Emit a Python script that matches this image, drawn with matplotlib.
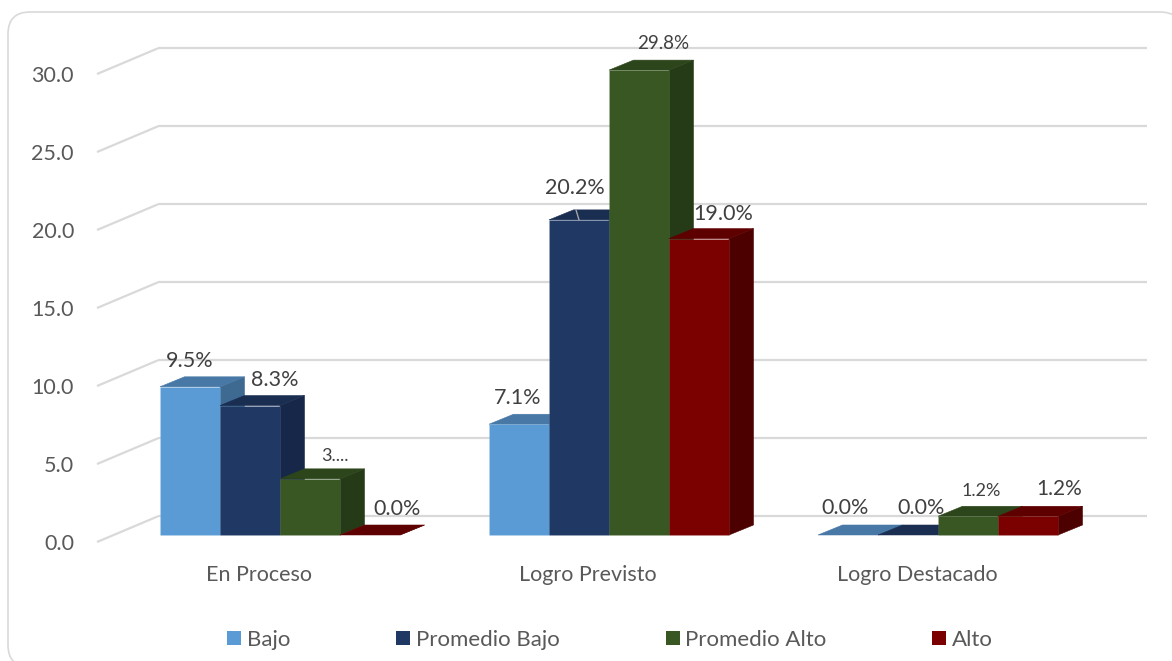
import matplotlib
matplotlib.use("Agg")
import matplotlib.pyplot as plt
from matplotlib.patches import FancyBboxPatch, Polygon, Rectangle

plt.rcParams["font.family"] = ["Lato", "DejaVu Sans"]

categories = ["En Proceso", "Logro Previsto", "Logro Destacado"]
series_names = ["Bajo", "Promedio Bajo", "Promedio Alto", "Alto"]
bajo = [9.5, 7.1, 0.0]
promedio_bajo = [8.3, 20.2, 0.0]
promedio_alto = [3.6, 29.8, 1.2]
alto = [0.0, 19.0, 1.2]
y_ticks = [0, 5, 10, 15, 20, 25, 30]

bajo_labels = ["9.5%", "7.1%", "0.0%"]
promedio_bajo_labels = ["8.3%", "20.2%", "0.0%"]
promedio_alto_labels = ["3....", "29.8%", "1.2%"]
alto_labels = ["0.0%", "19.0%", "1.2%"]

# front, top, side colours per series
colors = [("#5B9BD5", "#4778A6", "#3E6A92"),
          ("#1F3864", "#1A2E52", "#16274A"),
          ("#385723", "#2C451B", "#253A17"),
          ("#7B0000", "#5F0000", "#4C0000")]

# label offsets from the bar's front top centre, in pixels
label_offsets = [[(0, 26), (-1, 26), (-3, 27)],
                 [(25, 26), (-4, 32), (13, 27)],
                 [(25, 23), (24, 27), (13, 25)],
                 [(27, 26), (24, 25), (31, 27)]]
label_sizes = [[15.5, 15.5, 15.5], [15.5, 15.5, 15.5], [13, 13.5, 13], [15.5, 15.5, 15]]

W, H = 1172, 661
PX_X = 329.0  # pixels per category
PX_Y = 15.6   # pixels per value unit
bar_w = 60 / PX_X
depth_x = 24.5 / PX_X
depth_y = 10 / PX_Y

fig = plt.figure(figsize=(W / 100, H / 100), dpi=100)

# chart frame, pixel coordinates, runs off the right and bottom of the picture
bg = fig.add_axes([0, 0, 1, 1])
bg.set_xlim(0, W)
bg.set_ylim(H, 0)
bg.axis("off")
bg.add_patch(FancyBboxPatch((8, 12), 1174, 655, boxstyle="round,pad=0,rounding_size=22",
                            fc="white", ec="#D9D9D9", lw=1.2))

ax = fig.add_axes([97 / W, (H - 535) / H, 1050 / W, 468 / H])
ax.patch.set_alpha(0)
ax.set_xlim((97 - 280) / PX_X, (1147 - 280) / PX_X)
ax.set_ylim(0, 30)
for s in ax.spines.values():
    s.set_visible(False)
ax.set_xticks([])
ax.set_yticks([])

# walls of the 3d box
wall_x = (158 - 280) / PX_X
for v in y_ticks:
    ax.plot([ax.get_xlim()[0], wall_x], [v - 0.45, v + 1.2], color="#D9D9D9", lw=1.6,
            clip_on=False, zorder=1, solid_capstyle="butt")
    ax.plot([wall_x, ax.get_xlim()[1]], [v + 1.2, v + 1.2], color="#D9D9D9", lw=1.6,
            clip_on=False, zorder=1, solid_capstyle="butt")
    ax.annotate(f"{v:.1f}", (ax.get_xlim()[0], v), xytext=(-23, -9), textcoords="offset pixels",
                ha="right", va="center", fontsize=15.5, color="#595959")

all_values = [bajo, promedio_bajo, promedio_alto, alto]
all_labels = [bajo_labels, promedio_bajo_labels, promedio_alto_labels, alto_labels]

z = 2
for g in range(len(categories)):
    for s in range(len(series_names)):
        v = all_values[s][g]
        x0 = g + (s - 2) * bar_w
        x1 = x0 + bar_w
        front, top, side = colors[s]
        ax.add_patch(Polygon([(x1, 0), (x1 + depth_x, depth_y), (x1 + depth_x, v + depth_y), (x1, v)],
                             fc=side, ec=side, lw=0.4, zorder=z, clip_on=False))
        ax.add_patch(Polygon([(x0, v), (x0 + depth_x, v + depth_y), (x1 + depth_x, v + depth_y), (x1, v)],
                             fc=top, ec=top, lw=0.4, zorder=z, clip_on=False))
        ax.bar(x0, v, width=bar_w, align="edge", color=front, edgecolor="#FFFFFF18", lw=0.6,
               zorder=z, clip_on=False)
        z += 1
        dx, dy = label_offsets[s][g]
        ax.annotate(all_labels[s][g], (x0 + bar_w / 2, v), xytext=(dx, dy), textcoords="offset pixels",
                    ha="center", va="center", fontsize=label_sizes[s][g], color="#404040", zorder=50)
    ax.annotate(categories[g], (g, 0), xytext=(-21, -40), textcoords="offset pixels",
                ha="center", va="center", fontsize=15.5, color="#595959")

# leader line on the 20.2% label
lx = 1 + (1 - 2) * bar_w + bar_w / 2
ax.annotate("", (lx, promedio_bajo[1]), xytext=(-3, 10), textcoords="offset pixels",
            arrowprops=dict(arrowstyle="-", color="#A6A6A6", lw=1, shrinkA=0, shrinkB=0), zorder=40)

handles = [Rectangle((0, 0), 1, 1, fc=c[0], ec="none") for c in colors]
ax.legend(handles, series_names, ncols=4, loc="center", frameon=False, fontsize=16,
          bbox_to_anchor=((610 - 97) / 1050, (535 - 640) / 468), labelcolor="#595959",
          handlelength=0.63, handleheight=0.63, handletextpad=0.25, columnspacing=4.77)

fig.savefig("out.png", dpi=100)
